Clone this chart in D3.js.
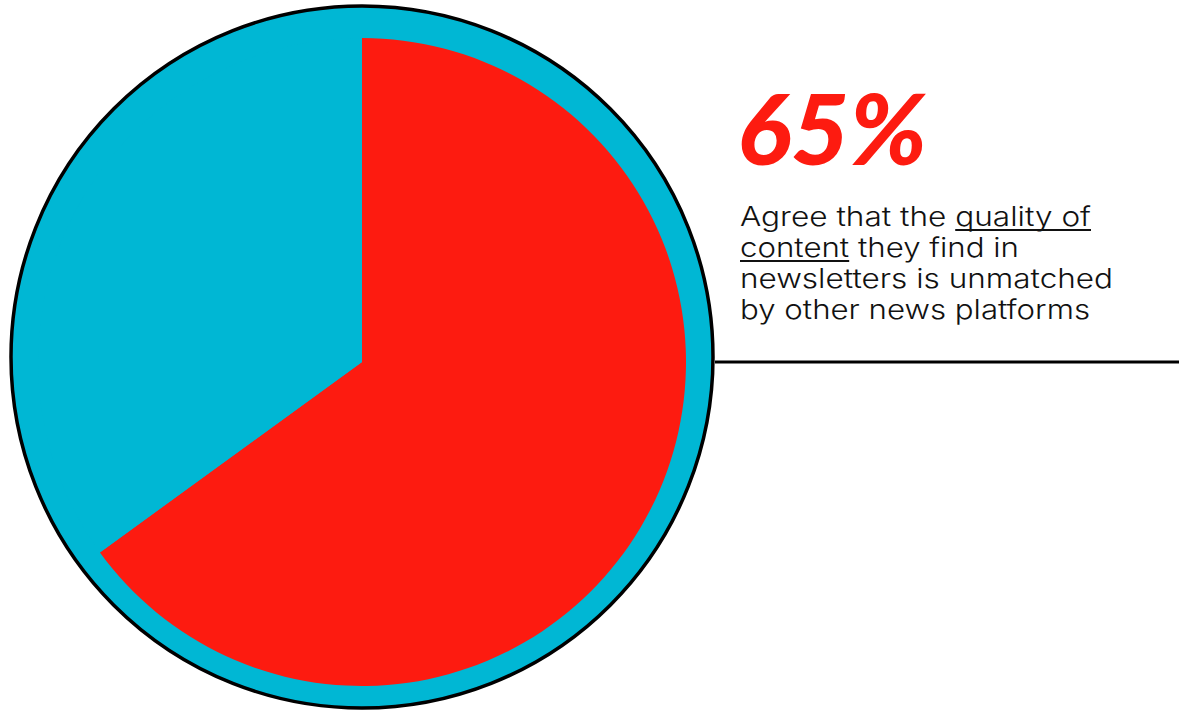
<!DOCTYPE html>
<html>
<head>
<meta charset="utf-8">
<script src="https://cdn.jsdelivr.net/npm/d3@7"></script>
<style>
  html, body { margin: 0; padding: 0; background: #ffffff; }
  svg { display: block; }
</style>
</head>
<body>
<svg id="chart" width="1179" height="713"></svg>
<script>
// Share of readers who agree vs. everyone else
const categories = ["Agree", "Other"];
const values = [65, 35];
const colors = ["#fd1b10", "#00b7d4"];

const headline = "65%";
// Caption lines; underlined phrases marked per line
const captionLines = [
  { text: "Agree that the quality of", underline: "quality of" },
  { text: "content they find in", underline: "content" },
  { text: "newsletters is unmatched", underline: null },
  { text: "by other news platforms", underline: null }
];
const captionWidths = [351, 279, 373, 350];

const svg = d3.select("#chart");

// Outer disc (background ring)
const disc = { cx: 362, cy: 357, r: 351 };
svg.append("circle")
  .attr("cx", disc.cx).attr("cy", disc.cy).attr("r", disc.r)
  .attr("fill", colors[1])
  .attr("stroke", "#000").attr("stroke-width", 3.5);

// Pie slices
const pie = d3.pie().sort(null).value(d => d.value);
const arc = d3.arc().innerRadius(0).outerRadius(324);
const data = categories.map((c, i) => ({ category: c, value: values[i], color: colors[i] }));

svg.append("g")
  .attr("transform", "translate(362,362)")
  .selectAll("path")
  .data(pie(data))
  .join("path")
  .attr("d", arc)
  .attr("fill", d => d.data.color);

// Leader line to the right edge
svg.append("line")
  .attr("x1", 715).attr("x2", 1179)
  .attr("y1", 362).attr("y2", 362)
  .attr("stroke", "#000").attr("stroke-width", 3);

// Big percentage
svg.append("text")
  .attr("x", 737).attr("y", 165)
  .attr("font-family", "Lato")
  .attr("font-weight", 900)
  .attr("font-style", "italic")
  .attr("font-size", 98)
  .attr("textLength", 190)
  .attr("lengthAdjust", "spacingAndGlyphs")
  .attr("fill", colors[0])
  .text(headline);

// Caption
const baseY = 226, lineH = 31;
const cap = svg.append("g");
captionLines.forEach((ln, i) => {
  const y = baseY + i * lineH;
  const t = cap.append("text")
    .attr("x", 740).attr("y", y)
    .attr("font-family", "Inter")
    .attr("font-weight", 360)
    .attr("font-size", 27)
    .attr("textLength", captionWidths[i])
    .attr("lengthAdjust", "spacingAndGlyphs")
    .attr("fill", "#111")
    .text(ln.text);
  if (ln.underline) {
    const start = ln.text.indexOf(ln.underline);
    const node = t.node();
    const x0 = node.getStartPositionOfChar(start).x;
    const x1 = node.getEndPositionOfChar(start + ln.underline.length - 1).x;
    cap.append("line")
      .attr("x1", x0).attr("x2", x1)
      .attr("y1", y + 4).attr("y2", y + 4)
      .attr("stroke", "#111").attr("stroke-width", 1.8);
  }
});
</script>
</body>
</html>
